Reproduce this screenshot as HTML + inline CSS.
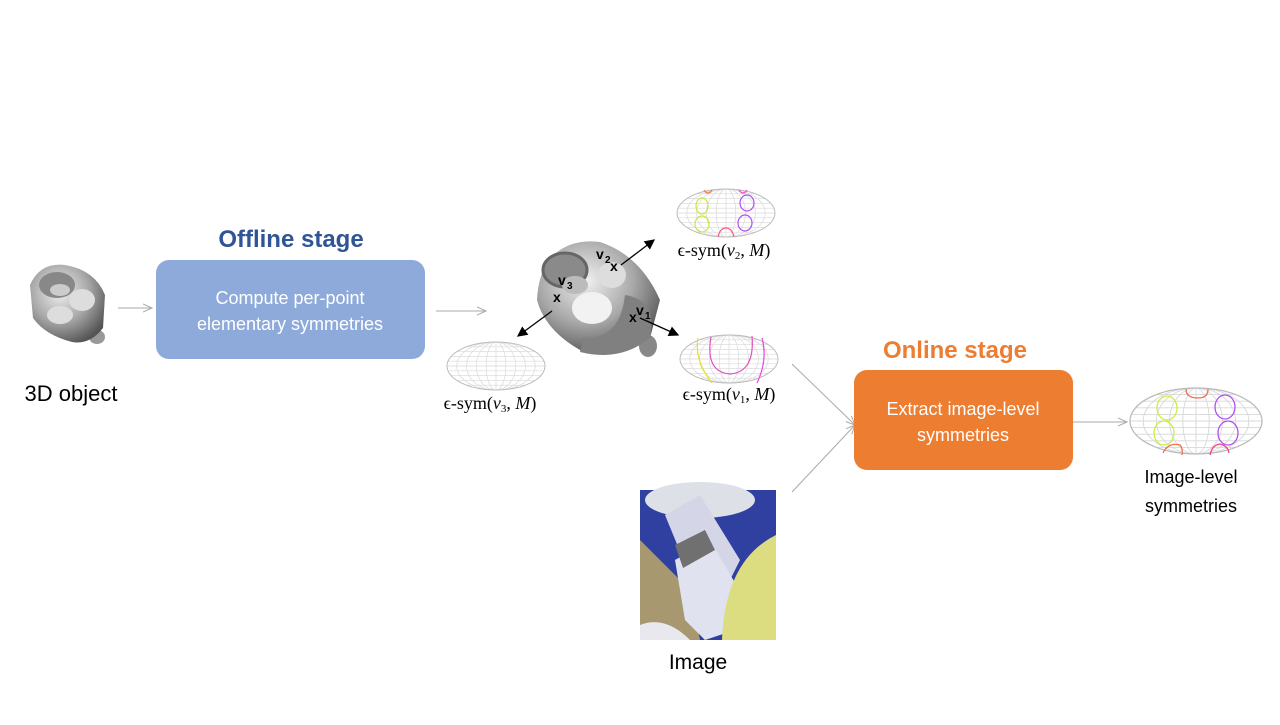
<!DOCTYPE html>
<html><head><meta charset="utf-8"><style>
body{margin:0;background:#fff;width:1280px;height:720px;overflow:hidden;font-family:"Liberation Sans",sans-serif}
</style></head><body>
<svg width="1280" height="720" viewBox="0 0 1280 720" xmlns="http://www.w3.org/2000/svg">
<defs>
<symbol id="g" viewBox="-50 -25 100 50" overflow="visible" preserveAspectRatio="none">
<clipPath id="ec"><ellipse cx="0" cy="0" rx="50" ry="25"/></clipPath>
<g clip-path="url(#ec)" stroke="#d8d8d8" stroke-width="0.7" fill="none">
<line x1="-50" y1="-20" x2="50" y2="-20"/><line x1="-50" y1="-15" x2="50" y2="-15"/><line x1="-50" y1="-10" x2="50" y2="-10"/><line x1="-50" y1="-5" x2="50" y2="-5"/><line x1="-50" y1="0" x2="50" y2="0"/><line x1="-50" y1="5" x2="50" y2="5"/><line x1="-50" y1="10" x2="50" y2="10"/><line x1="-50" y1="15" x2="50" y2="15"/><line x1="-50" y1="20" x2="50" y2="20"/>
<ellipse rx="10" ry="25"/><ellipse rx="20" ry="25"/><ellipse rx="30" ry="25"/><ellipse rx="40" ry="25"/><line x1="0" y1="-25" x2="0" y2="25"/>
</g>
<ellipse rx="50" ry="25" fill="none" stroke="#bbb" stroke-width="1"/>
</symbol>
<radialGradient id="obj" cx="0.4" cy="0.35" r="0.7"><stop offset="0" stop-color="#f0f0f0"/><stop offset="0.55" stop-color="#a8a8a8"/><stop offset="1" stop-color="#555"/></radialGradient>
<marker id="ab" markerWidth="8" markerHeight="8" refX="7" refY="4" orient="auto"><path d="M0,0 L8,4 L0,8 z" fill="#000"/></marker>
<marker id="ag" markerWidth="10" markerHeight="10" refX="9" refY="5" orient="auto"><path d="M0,1 L9,5 L0,9" fill="none" stroke="#aaa" stroke-width="1"/></marker>
</defs>

<g>
<ellipse cx="97" cy="337" rx="8" ry="7" fill="#999"/>
<path d="M30,285 Q40,262 65,265 Q95,270 105,295 L103,328 Q90,345 72,342 Q45,335 33,318 Z" fill="url(#obj)"/>
<ellipse cx="57" cy="285" rx="18" ry="13" fill="#888"/>
<ellipse cx="60" cy="290" rx="10" ry="6" fill="#ccc"/>
<ellipse cx="82" cy="300" rx="13" ry="11" fill="#ddd"/>
<ellipse cx="60" cy="315" rx="13" ry="9" fill="#ddd"/>
</g>
<text x="71" y="401" font-size="22" text-anchor="middle" fill="#000">3D object</text>

<line x1="118" y1="308" x2="152" y2="308" stroke="#aaa" stroke-width="1" marker-end="url(#ag)"/>

<text x="291" y="247" font-size="24" font-weight="bold" text-anchor="middle" fill="#2F5597">Offline stage</text>
<rect x="156" y="260" width="269" height="99" rx="13" fill="#8EAADB"/>
<text x="290" y="304" font-size="18" text-anchor="middle" fill="#fff">Compute per-point</text>
<text x="290" y="330" font-size="18" text-anchor="middle" fill="#fff">elementary symmetries</text>

<line x1="436" y1="311" x2="486" y2="311" stroke="#aaa" stroke-width="1" marker-end="url(#ag)"/>

<g>
<ellipse cx="648" cy="346" rx="9" ry="11" fill="#888"/>
<path d="M550,258 Q570,238 600,242 Q640,255 660,300 L650,338 Q620,360 580,350 Q545,330 537,300 Q538,275 550,258 Z" fill="url(#obj)"/>
<path d="M625,295 Q658,300 650,338 Q620,362 580,352 L583,338 Q620,340 625,295 Z" fill="#808080"/>
<ellipse cx="565" cy="270" rx="22" ry="17" fill="#8a8a8a" stroke="#666" stroke-width="3"/>
<ellipse cx="575" cy="285" rx="13" ry="9" fill="#bbb"/>
<ellipse cx="612" cy="275" rx="14" ry="13" fill="#ddd"/>
<ellipse cx="592" cy="308" rx="20" ry="16" fill="#f2f2f2"/>
</g>
<g font-size="14" font-weight="bold" fill="#000">
<text x="596" y="259">v</text><text x="605" y="263" font-size="10">2</text>
<text x="610" y="271">x</text>
<text x="558" y="285">v</text><text x="567" y="289" font-size="10">3</text>
<text x="553" y="302">x</text>
<text x="636" y="315">v</text><text x="645" y="319" font-size="10">1</text>
<text x="629" y="322">x</text>
</g>
<line x1="621" y1="265" x2="654" y2="240" stroke="#000" stroke-width="1.3" marker-end="url(#ab)"/>
<line x1="552" y1="311" x2="518" y2="336" stroke="#000" stroke-width="1.3" marker-end="url(#ab)"/>
<line x1="640" y1="318" x2="678" y2="335" stroke="#000" stroke-width="1.3" marker-end="url(#ab)"/>

<use href="#g" x="677" y="189" width="98" height="48"/>
<g fill="none" stroke-width="1.2">
<ellipse cx="702" cy="206" rx="6" ry="8" stroke="#c8e840"/><ellipse cx="702" cy="224" rx="7" ry="8" stroke="#c8e840"/>
<ellipse cx="747" cy="203" rx="7" ry="8" stroke="#b050f0"/><ellipse cx="745" cy="223" rx="7" ry="8" stroke="#b050f0"/>
<path d="M718,237 Q720,228 726,228 Q732,228 734,237" stroke="#f06080"/>
<path d="M704,190 Q708,196 712,190" stroke="#f08050"/><path d="M739,190 Q743,196 747,190" stroke="#f050c0"/>
</g>
<text x="724" y="256" font-size="18" text-anchor="middle" font-family="Liberation Serif,serif">ϵ-sym(<tspan font-style="italic">v</tspan><tspan font-size="11" dy="3">2</tspan><tspan dy="-3">, </tspan><tspan font-style="italic">M</tspan>)</text>

<use href="#g" x="447" y="342" width="98" height="48"/>
<text x="490" y="409" font-size="18" text-anchor="middle" font-family="Liberation Serif,serif">ϵ-sym(<tspan font-style="italic">v</tspan><tspan font-size="11" dy="3">3</tspan><tspan dy="-3">, </tspan><tspan font-style="italic">M</tspan>)</text>

<use href="#g" x="680" y="335" width="98" height="48"/>
<g fill="none" stroke-width="1.2">
<path d="M698,338 Q694,360 712,383" stroke="#e8e020"/>
<path d="M711,337 Q705,372 730,374 Q755,372 752,336" stroke="#e050c0"/>
<path d="M762,338 Q768,360 757,383" stroke="#f040e0"/>
</g>
<text x="729" y="400" font-size="18" text-anchor="middle" font-family="Liberation Serif,serif">ϵ-sym(<tspan font-style="italic">v</tspan><tspan font-size="11" dy="3">1</tspan><tspan dy="-3">, </tspan><tspan font-style="italic">M</tspan>)</text>

<line x1="792" y1="364" x2="855" y2="425" stroke="#aaa" stroke-width="1" marker-end="url(#ag)"/>
<line x1="792" y1="492" x2="855" y2="425" stroke="#aaa" stroke-width="1" marker-end="url(#ag)"/>

<text x="955" y="358" font-size="24" font-weight="bold" text-anchor="middle" fill="#ED7D31">Online stage</text>
<rect x="854" y="370" width="219" height="100" rx="13" fill="#ED7D31"/>
<text x="963" y="415" font-size="18" text-anchor="middle" fill="#fff">Extract image-level</text>
<text x="963" y="441" font-size="18" text-anchor="middle" fill="#fff">symmetries</text>

<line x1="1073" y1="422" x2="1127" y2="422" stroke="#aaa" stroke-width="1" marker-end="url(#ag)"/>

<use href="#g" x="1130" y="388" width="132" height="66"/>
<g fill="none" stroke-width="1.3">
<ellipse cx="1167" cy="408" rx="10" ry="12" stroke="#c8f040"/><ellipse cx="1164" cy="433" rx="10" ry="12" stroke="#c8f040"/>
<ellipse cx="1225" cy="407" rx="10" ry="12" stroke="#b050f0"/><ellipse cx="1228" cy="433" rx="10" ry="12" stroke="#b050f0"/>
<path d="M1186,389 Q1186,398 1198,398 Q1208,398 1208,389" stroke="#f07050"/>
<path d="M1163,453 Q1168,442 1180,445 Q1183,448 1182,455" stroke="#f07050"/>
<path d="M1210,455 Q1212,445 1220,444 Q1228,446 1229,453" stroke="#f04090"/>
</g>
<text x="1191" y="483" font-size="18" text-anchor="middle">Image-level</text>
<text x="1191" y="512" font-size="18" text-anchor="middle">symmetries</text>

<g>
<rect x="640" y="490" width="136" height="150" fill="#3040a0"/>
<path d="M640,540 L690,590 L700,640 L640,640 Z" fill="#a89870"/>
<ellipse cx="700" cy="500" rx="55" ry="18" fill="#dde0e6"/>
<path d="M665,515 L700,495 L740,560 L720,600 L700,600 Z" fill="#d4d6e8"/>
<path d="M675,560 L710,540 L745,600 L735,630 L705,640 L685,620 Z" fill="#e0e2f0"/>
<path d="M675,545 L705,530 L715,550 L683,568 Z" fill="#707070"/>
<path d="M776,535 Q725,560 722,640 L776,640 Z" fill="#dcdc80"/>
<path d="M640,625 Q665,615 690,640 L640,640 Z" fill="#e8e8ee"/>
</g>
<text x="698" y="669" font-size="21" text-anchor="middle">Image</text>
</svg>
</body></html>
